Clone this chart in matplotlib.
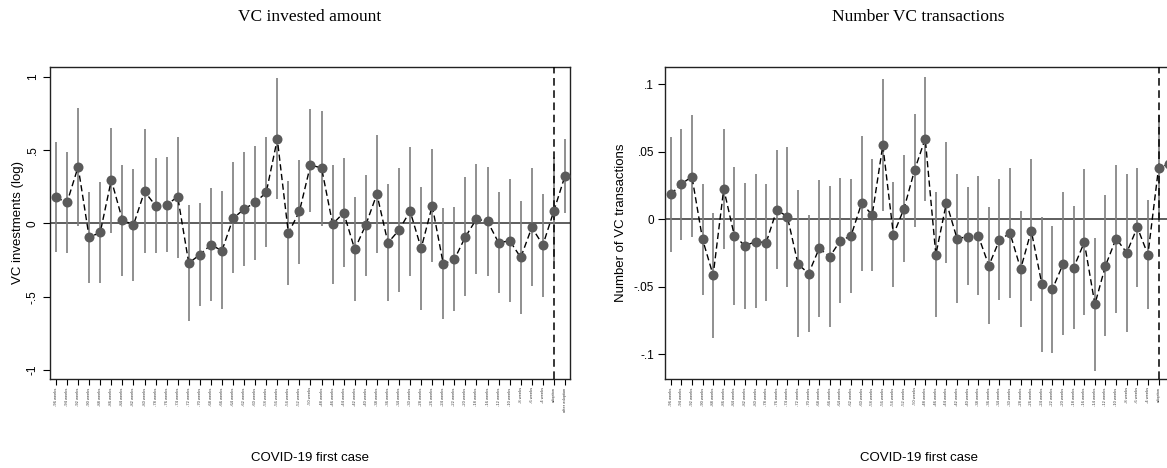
import matplotlib
matplotlib.use("Agg")
import matplotlib.pyplot as plt
import numpy as np

# --- data ---
weeks_amt = [-96, -94, -92, -90, -88, -86, -84, -82, -80, -78, -76, -74, -72, -70, -68,
             -66, -64, -62, -60, -58, -56, -54, -52, -50, -48, -46, -44, -42, -40, -38,
             -36, -34, -30, -28, -26, -24, -22, -20, -18, -16, -12, -10, -8, -6, -4]
extra_amt = ["adoption", "after adoption"]

coef_amt = [0.177, 0.143, 0.386, -0.095, -0.061, 0.296, 0.025, -0.011, 0.218, 0.121,
            0.127, 0.182, -0.27, -0.213, -0.145, -0.186, 0.034, 0.098, 0.143, 0.211,
            0.575, -0.066, 0.082, 0.398, 0.378, -0.004, 0.073, -0.177, -0.009, 0.2,
            -0.132, -0.045, 0.084, -0.17, 0.121, -0.277, -0.245, -0.091, 0.03, 0.014,
            -0.132, -0.118, -0.232, -0.027, -0.147, 0.087, 0.325]
hi_amt = [0.552, 0.489, 0.786, 0.216, 0.284, 0.648, 0.4, 0.371, 0.643, 0.443,
          0.455, 0.591, 0.125, 0.136, 0.241, 0.218, 0.416, 0.489, 0.53, 0.586,
          0.988, 0.291, 0.434, 0.78, 0.768, 0.4, 0.443, 0.177, 0.332, 0.603,
          0.268, 0.378, 0.523, 0.25, 0.507, 0.102, 0.109, 0.318, 0.405, 0.386,
          0.216, 0.302, 0.15, 0.378, 0.2, 0.45, 0.575]
lo_amt = [-0.198, -0.204, -0.016, -0.406, -0.406, -0.066, -0.356, -0.39, -0.204, -0.204,
          -0.198, -0.236, -0.668, -0.563, -0.527, -0.586, -0.341, -0.29, -0.25, -0.163,
          0.166, -0.42, -0.273, 0.075, -0.016, -0.413, -0.3, -0.531, -0.356, -0.202,
          -0.531, -0.466, -0.356, -0.59, -0.266, -0.652, -0.595, -0.493, -0.345, -0.356,
          -0.477, -0.538, -0.618, -0.425, -0.5, -0.266, 0.068]

weeks_n = [-96, -94, -92, -90, -88, -86, -84, -82, -80, -78, -76, -74, -72, -70, -68,
           -66, -64, -62, -60, -58, -56, -54, -52, -50, -48, -46, -44, -42, -40, -38,
           -36, -34, -30, -28, -26, -24, -22, -20, -18, -16, -14, -12, -10, -8, -6, -4]
extra_n = ["adoption", "after adoption"]

coef_n = [0.0184, 0.026, 0.0315, -0.0149, -0.0415, 0.0224, -0.0122, -0.0198, -0.0166, -0.0174,
          0.0068, 0.0019, -0.0332, -0.0403, -0.0216, -0.0277, -0.0159, -0.0124, 0.0118, 0.0031,
          0.0547, -0.0115, 0.0078, 0.0364, 0.0596, -0.0263, 0.0122, -0.0144, -0.013, -0.0122,
          -0.0344, -0.0154, -0.0104, -0.0369, -0.0085, -0.0482, -0.0517, -0.0332, -0.0359, -0.0171,
          -0.063, -0.0344, -0.0144, -0.0248, -0.006, -0.0263, 0.0377, 0.041]
hi_n = [0.0606, 0.067, 0.077, 0.026, 0.0048, 0.067, 0.0389, 0.027, 0.0335, 0.0258,
        0.0512, 0.0532, 0.0214, 0.003, 0.029, 0.0248, 0.0307, 0.03, 0.0616, 0.0443,
        0.1035, 0.0278, 0.0473, 0.0776, 0.1055, 0.02, 0.0569, 0.0332, 0.0236, 0.0322,
        0.0093, 0.0295, 0.0379, 0.0061, 0.0443, 0.0014, -0.0048, 0.02, 0.0098, 0.037,
        -0.0141, 0.0179, 0.0403, 0.0335, 0.0379, 0.0142, 0.077, 0.08]
lo_n = [-0.024, -0.0154, -0.0134, -0.056, -0.0877, -0.0223, -0.0635, -0.0667, -0.066, -0.0605,
        -0.037, -0.0504, -0.0874, -0.0833, -0.0726, -0.0795, -0.0618, -0.0544, -0.0381, -0.0381,
        0.006, -0.0504, -0.0315, -0.0055, 0.0135, -0.0722, -0.0327, -0.0618, -0.0487, -0.0561,
        -0.0778, -0.0598, -0.0586, -0.0795, -0.0608, -0.098, -0.0988, -0.086, -0.081, -0.0709,
        -0.1121, -0.0864, -0.0692, -0.0833, -0.05, -0.0667, -0.002, 0.002]

yticks_amt = [-1, -0.5, 0, 0.5, 1]
yticklabels_amt = ["-1", "-.5", "0", ".5", "1"]
yticks_n = [-0.1, -0.05, 0, 0.05, 0.1]
yticklabels_n = ["-.1", "-.05", "0", ".05", ".1"]

SANS = "Liberation Sans"
SERIF = "Liberation Serif"
MARK = "#5a5a5a"
BAR = "#7d7d7d"

W, H = 1167, 468
fig = plt.figure(figsize=(W / 100, H / 100), dpi=100)


def panel(rect, weeks, extra, coef, lo, hi, xlim, ylim, yt, ytl, ylab, rot_y, ylab_x):
    ax = fig.add_axes(rect)
    labels = ["%d weeks" % w for w in weeks] + extra
    x = np.arange(len(labels))
    adopt = len(weeks)
    ax.axhline(0, color="#333333", lw=1.1, zorder=1)
    ax.vlines(x, lo, hi, color=BAR, lw=1.2, zorder=2)
    ax.plot(x, coef, color="black", lw=1.0, ls=(0, (4.5, 2.5)), zorder=3)
    ax.plot(x, coef, "o", color=MARK, ms=7.2, mew=0, zorder=4)
    ax.axvline(adopt, color="black", lw=1.1, ls=(0, (5, 3)), zorder=3)
    ax.set_xlim(*xlim)
    ax.set_ylim(*ylim)
    ax.set_xticks(x)
    ax.set_xticklabels(labels, rotation=90, fontsize=2.9, family=SANS, color="#333333")
    # labels whose tick falls past the figure edge are not shown
    to_fig = ax.transData + fig.transFigure.inverted()
    for t, xv in zip(ax.get_xticklabels(), x):
        if to_fig.transform((xv, 0))[0] > 0.998:
            t.set_visible(False)
    ax.set_yticks(yt)
    if rot_y:
        ax.set_yticklabels(ytl, rotation=90, va="center", fontsize=8.5, family=SANS)
    else:
        ax.set_yticklabels(ytl, fontsize=8.5, family=SANS)
    ax.tick_params(axis="x", length=4, width=0.8, pad=2)
    ax.tick_params(axis="y", length=5, width=0.8, pad=3)
    for s in ax.spines.values():
        s.set_linewidth(1.0)
        s.set_color("#222222")
    ax.set_ylabel(ylab, fontsize=9.5, family=SANS)
    ax.yaxis.set_label_coords(ylab_x, 0.5)
    ax.set_xlabel("COVID-19 first case", fontsize=9.5, family=SANS)
    ax.xaxis.set_label_coords(0.5, -0.235)
    return ax


top = 1 - 67 / H
bottom = 1 - 379 / H
ax1 = panel([50 / W, bottom, 520 / W, top - bottom], weeks_amt, extra_amt, coef_amt, lo_amt, hi_amt,
            (-0.54, 46.45), (-1.06, 1.066), yticks_amt, yticklabels_amt,
            "VC investments (log)", True, -0.05)
ax2 = panel([665 / W, bottom, 509 / W, top - bottom], weeks_n, extra_n, coef_n, lo_n, hi_n,
            (-0.54, 47.46), (-0.1183, 0.1126), yticks_n, yticklabels_n,
            "Number of VC transactions", False, -0.075)

fig.text(310 / W, 1 - 17 / H, "VC invested amount", ha="center", va="center",
         fontsize=12.5, family=SERIF)
fig.text(918 / W, 1 - 17 / H, "Number VC transactions", ha="center", va="center",
         fontsize=12.5, family=SERIF)

fig.savefig("out.png", dpi=100)
